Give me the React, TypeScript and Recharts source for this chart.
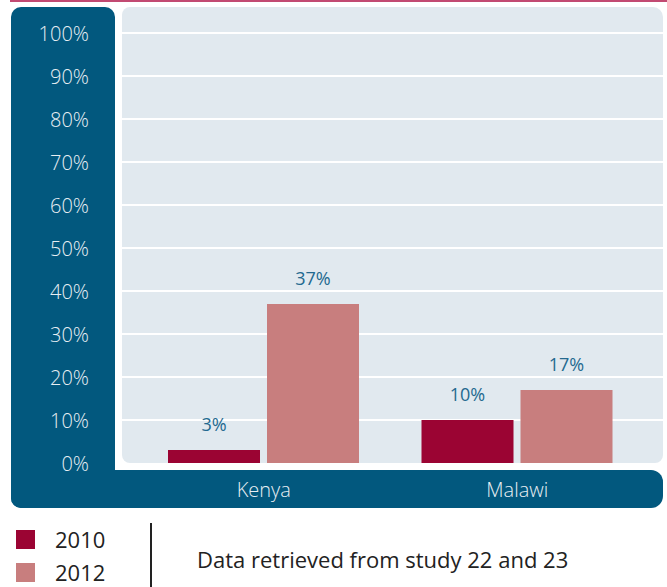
import { Bar, BarChart, CartesianGrid, LabelList, XAxis, YAxis } from 'recharts';

const countries = ['Kenya', 'Malawi'];
const values2010 = [3, 10];
const values2012 = [37, 17];
const yTicks = [0, 10, 20, 30, 40, 50, 60, 70, 80, 90, 100];
const gridValues = [10, 20, 30, 40, 50, 60, 70, 80, 90, 100];
const note = 'Data retrieved from study 22 and 23';

const series = [
  { key: 'y2010', name: '2010', color: '#9b0433' },
  { key: 'y2012', name: '2012', color: '#c87e7e' },
];

const data = countries.map((country, i) => ({
  country,
  y2010: values2010[i],
  y2012: values2012[i],
}));

const BLUE = '#02587e';
const FONT = '"Open Sans", sans-serif';

const pct = (v: number) => `${v}%`;

export default function App() {
  return (
    <div
      style={{
        position: 'absolute',
        left: 0,
        top: 0,
        width: 667,
        height: 587,
        fontFamily: FONT,
        background: '#fff',
        overflow: 'hidden',
      }}
    >
      {/* top rule */}
      <div style={{ position: 'absolute', left: 10, top: 0, width: 657, height: 1.5, background: '#c24a72' }} />
      {/* axis frames */}
      <div style={{ position: 'absolute', left: 11, top: 7, width: 104, height: 501, background: BLUE, borderRadius: 10 }} />
      <div
        style={{
          position: 'absolute',
          left: 11,
          top: 470,
          width: 652,
          height: 38,
          background: BLUE,
          borderRadius: '0 12px 12px 10px',
        }}
      />
      {/* plot background */}
      <div style={{ position: 'absolute', left: 122, top: 7, width: 541, height: 456, background: '#e1e9ef', borderRadius: '8px 10px 8px 8px' }} />

      <div style={{ position: 'absolute', left: 0, top: 0 }}>
        <BarChart
          width={667}
          height={587}
          data={data}
          margin={{ top: 33, right: 4, bottom: 0, left: 0 }}
          barSize={92}
          barGap={7}
        >
          <CartesianGrid horizontal vertical={false} horizontalValues={gridValues} stroke="#ffffff" strokeWidth={2} />
          <XAxis
            dataKey="country"
            height={124}
            padding={{ left: 15, right: 19 }}
            axisLine={false}
            tickLine={false}
            tickSize={0}
            tickMargin={20}
            tick={{ fill: '#e8eef3', fontSize: 20, fontFamily: FONT, fontWeight: 300 }}
          />
          <YAxis
            width={122}
            domain={[0, 100]}
            ticks={yTicks}
            tickFormatter={pct}
            axisLine={false}
            tickLine={false}
            tickSize={0}
            tickMargin={33}
            tick={{ fill: '#e8eef3', fontSize: 20, fontFamily: FONT, fontWeight: 300, dy: 1 }}
          />
          {series.map((s) => (
            <Bar key={s.key} dataKey={s.key} name={s.name} fill={s.color} isAnimationActive={false}>
              <LabelList
                dataKey={s.key}
                position="top"
                offset={19}
                formatter={(v: any) => pct(Number(v))}
                style={{ fill: '#24698f', fontSize: 18, fontFamily: FONT }}
              />
            </Bar>
          ))}
        </BarChart>
      </div>

      {/* legend */}
      {series.map((s, i) => (
        <div key={s.key} style={{ position: 'absolute', left: 16, top: 530 + i * 33, height: 19, display: 'flex', alignItems: 'center' }}>
          <div style={{ width: 19, height: 19, background: s.color }} />
          <span style={{ marginLeft: 20, fontSize: 22, color: '#222', lineHeight: '19px' }}>{s.name}</span>
        </div>
      ))}
      <div style={{ position: 'absolute', left: 150, top: 523, width: 1.5, height: 64, background: '#222' }} />
      <div style={{ position: 'absolute', left: 197, top: 544, fontSize: 22, color: '#222', lineHeight: '30px', whiteSpace: 'nowrap' }}>
        {note}
      </div>
    </div>
  );
}
